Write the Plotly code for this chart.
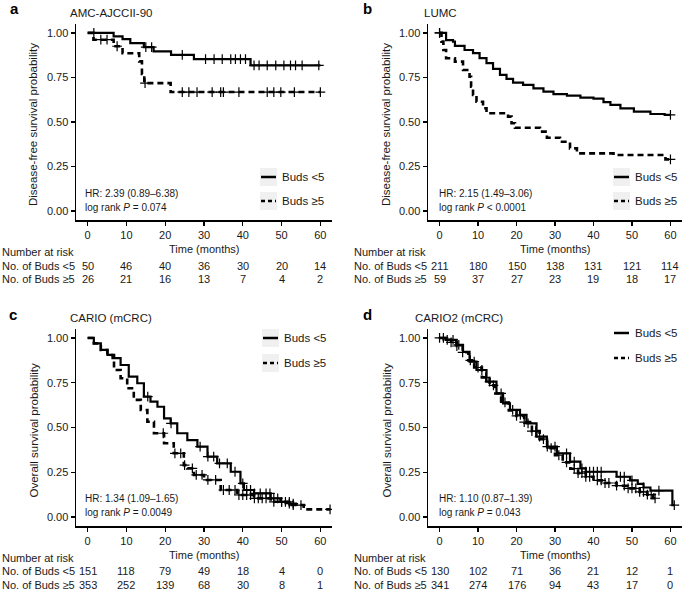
import plotly.graph_objects as go

W, H = 685, 590
FONT = "Liberation Sans, Arial, sans-serif"
FS = 11

# ---------------- data ----------------
TICKS = [0, 10, 20, 30, 40, 50, 60]
TICK_LABELS = ["0", "10", "20", "30", "40", "50", "60"]
Y_TICKS = [0, 0.25, 0.5, 0.75, 1.0]
Y_TICK_LABELS = ["0.00", "0.25", "0.50", "0.75", "1.00"]

# Panel a: AMC-AJCCII-90
A_T_LO = [0, 6.7, 9, 11, 14.5, 17, 21.5, 27.4, 42, 60]
A_S_LO = [1.0, 0.98, 0.965, 0.943, 0.92, 0.896, 0.877, 0.853, 0.818, 0.818]
A_C_LO = [1.6, 15, 16.5, 24.4, 30.4, 32.6, 34.7, 36.9, 38.1, 39.4, 40.7, 42.9, 44.2, 46.3, 48.5, 50.6, 52.3, 53.6, 55.3, 59.6]
A_T_HI = [0, 1.5, 6.7, 9, 13.3, 14, 14.6, 21.4, 60]
A_S_HI = [1.0, 0.962, 0.925, 0.886, 0.84, 0.77, 0.718, 0.668, 0.668]
A_C_HI = [3.4, 5, 7.6, 14.8, 24.4, 26.1, 28.2, 32.1, 34.3, 35, 39, 46.3, 48, 49.8, 53.3, 60]
A_RISK_LO = [50, 46, 40, 36, 30, 20, 14]
A_RISK_HI = [26, 21, 16, 13, 7, 4, 2]

# Panel b: LUMC
B_T_LO = [0, 1.7, 3.5, 4, 6.5, 8.7, 10.4, 12.2, 13.9, 15.7, 17.4, 19.1, 21.7, 24.4, 27, 29.6, 33.1, 36.6, 40, 42.6, 44.4, 47, 50.5, 54.8, 58.5, 60]
B_S_LO = [1.0, 0.96, 0.951, 0.927, 0.904, 0.886, 0.858, 0.83, 0.798, 0.764, 0.742, 0.721, 0.708, 0.689, 0.67, 0.656, 0.648, 0.637, 0.631, 0.611, 0.596, 0.577, 0.558, 0.545, 0.54, 0.54]
B_C_LO = [0, 60]
B_T_HI = [0, 0.5, 1, 1.7, 4, 6.1, 7.8, 8.2, 8.7, 9.6, 11.3, 12.2, 17.8, 18.7, 19.6, 26.1, 27.9, 31.3, 33.9, 35.7, 45.2, 58.7, 60]
B_S_HI = [1.0, 0.951, 0.904, 0.858, 0.839, 0.792, 0.754, 0.698, 0.652, 0.614, 0.577, 0.549, 0.53, 0.493, 0.468, 0.446, 0.412, 0.389, 0.352, 0.324, 0.315, 0.29, 0.29]
B_C_HI = [0, 60]
B_RISK_LO = [211, 180, 150, 138, 131, 121, 114]
B_RISK_HI = [59, 37, 27, 23, 19, 18, 17]

# Panel c: CARIO (mCRC)
C_T_LO = [0, 1.6, 3.4, 5.1, 6.4, 8.5, 10.6, 12.8, 14.5, 16.2, 18, 19.7, 21.4, 23.1, 25.7, 28.3, 30.9, 33.4, 36.9, 39.4, 40.3, 42.9, 47.2, 49.7, 52, 54]
C_S_LO = [1.0, 0.97, 0.933, 0.905, 0.887, 0.849, 0.784, 0.747, 0.672, 0.644, 0.616, 0.551, 0.523, 0.468, 0.43, 0.393, 0.337, 0.30, 0.253, 0.188, 0.151, 0.132, 0.104, 0.085, 0.075, 0.075]
C_C_LO = [15.5, 21.5, 29, 31, 32.5, 34, 36, 38, 40, 41, 42, 43, 44.5, 46, 47, 48, 49, 50, 51, 52, 53]
C_T_HI = [0, 1.6, 3.4, 5.1, 6.8, 8.5, 10.2, 11.9, 13.7, 15.4, 17.1, 19.7, 22.2, 24.8, 25.7, 27.4, 30, 34.3, 38.6, 42.9, 47.2, 52.3, 55.7, 62.5]
C_S_HI = [1.0, 0.97, 0.933, 0.905, 0.821, 0.775, 0.719, 0.654, 0.598, 0.532, 0.468, 0.412, 0.356, 0.29, 0.272, 0.235, 0.207, 0.151, 0.123, 0.104, 0.085, 0.067, 0.043, 0.043]
C_C_HI = [19.5, 22.5, 24, 25, 27, 28, 29.5, 31, 33, 35, 36.5, 38, 39, 40, 41, 42, 43, 44, 45, 46, 48, 50, 52, 53, 55, 62.5]
C_RISK_LO = [151, 118, 79, 49, 18, 4, 0]
C_RISK_HI = [353, 252, 139, 68, 30, 8, 1]

# Panel d: CARIO2 (mCRC)
D_T_LO = [0, 1.7, 4.4, 6.1, 7.8, 9.6, 12.2, 14.8, 16.5, 18.3, 20.9, 22.6, 25.2, 27.9, 30.5, 33.9, 36.6, 38, 46, 49.5, 51.5, 53, 54.8, 60.5, 61]
D_S_LO = [1.0, 0.989, 0.961, 0.923, 0.868, 0.821, 0.756, 0.691, 0.635, 0.598, 0.57, 0.523, 0.449, 0.393, 0.356, 0.309, 0.272, 0.253, 0.225, 0.205, 0.185, 0.165, 0.147, 0.067, 0.067]
D_C_LO = [0, 2, 3.5, 5, 9, 11, 13, 16, 19, 21, 23, 26, 28, 30, 33, 35, 37, 38, 39, 40, 41, 42, 47, 48, 50, 53, 57, 61]
D_T_HI = [0, 1.5, 3, 4.5, 6, 7.5, 9, 11, 13, 14.5, 16, 18, 20, 22, 24, 26, 28, 30, 32, 34, 36, 38, 40, 43, 46, 49, 52, 54, 55.5, 56.5]
D_S_HI = [1.0, 0.99, 0.975, 0.955, 0.92, 0.875, 0.835, 0.78, 0.735, 0.69, 0.64, 0.595, 0.565, 0.53, 0.48, 0.435, 0.385, 0.345, 0.305, 0.27, 0.245, 0.225, 0.205, 0.19, 0.175, 0.16, 0.14, 0.125, 0.105, 0.105]
D_C_HI = [1, 3, 4.5, 6, 8, 10, 12, 14, 17, 20, 22, 24, 25, 27, 29, 31, 33, 35, 36, 37, 38, 39, 41, 42, 43, 44, 46, 48, 49, 50, 51, 52, 53, 54, 55, 56]
D_RISK_LO = [130, 102, 71, 36, 21, 12, 1]
D_RISK_HI = [341, 274, 176, 94, 43, 17, 0]

PANELS = [
    dict(letter="a", title="AMC-AJCCII-90", ylabel="Disease-free survival probability",
         lo=(A_T_LO, A_S_LO, A_C_LO), hi=(A_T_HI, A_S_HI, A_C_HI),
         risk=(A_RISK_LO, A_RISK_HI), hr="HR: 2.39 (0.89–6.38)", p="log rank <i>P</i> = 0.074"),
    dict(letter="b", title="LUMC", ylabel="Disease-free survival probability",
         lo=(B_T_LO, B_S_LO, B_C_LO), hi=(B_T_HI, B_S_HI, B_C_HI),
         risk=(B_RISK_LO, B_RISK_HI), hr="HR: 2.15 (1.49–3.06)", p="log rank <i>P</i> < 0.0001"),
    dict(letter="c", title="CARIO (mCRC)", ylabel="Overall survival probability",
         lo=(C_T_LO, C_S_LO, C_C_LO), hi=(C_T_HI, C_S_HI, C_C_HI),
         risk=(C_RISK_LO, C_RISK_HI), hr="HR: 1.34 (1.09–1.65)", p="log rank <i>P</i> = 0.0049"),
    dict(letter="d", title="CARIO2 (mCRC)", ylabel="Overall survival probability",
         lo=(D_T_LO, D_S_LO, D_C_LO), hi=(D_T_HI, D_S_HI, D_C_HI),
         risk=(D_RISK_LO, D_RISK_HI), hr="HR: 1.10 (0.87–1.39)", p="log rank <i>P</i> = 0.043"),
]

# ---------------- layout geometry (pixels) ----------------
def px(x):
    return x / W

def py(y):
    return 1 - y / H

GEOM = [
    dict(x0=76, x1=332, y0=24, y1=220, legend="bottom", leg_key=260, ylab_x=33, hr_x=83, hr_y=193,
         risk_head=252, risk_rows=(266, 279), lbl_x=0, time_y=249, letter=(14, 9), title_x=68, title_y=13, gray=True),
    dict(x0=428, x1=682, y0=24, y1=220, legend="bottom", leg_key=613, ylab_x=386, hr_x=437, hr_y=193,
         risk_head=252, risk_rows=(266, 279), lbl_x=352, time_y=249, letter=(367, 9), title_x=422, title_y=13, gray=True),
    dict(x0=76, x1=332, y0=329, y1=526, legend="top", leg_key=262, ylab_x=33, hr_x=83, hr_y=498,
         risk_head=558, risk_rows=(571, 585), lbl_x=0, time_y=555, letter=(13, 314), title_x=68, title_y=318, gray=True),
    dict(x0=428, x1=682, y0=329, y1=526, legend="top", leg_key=613, ylab_x=386, hr_x=437, hr_y=498,
         risk_head=558, risk_rows=(571, 585), lbl_x=352, time_y=555, letter=(367, 314), title_x=413, title_y=318, gray=False),
]


def step_at(ts, ss, t):
    v = ss[0]
    for ti, si in zip(ts, ss):
        if ti <= t:
            v = si
        else:
            break
    return v


fig = go.Figure()
annotations = []
shapes = []
tf = dict(family=FONT, size=FS, color="#1a1a1a")

for i, (pan, g) in enumerate(zip(PANELS, GEOM)):
    n = "" if i == 0 else str(i + 1)
    xa, ya = "x" + n, "y" + n
    for key, dash, lw in (("lo", "solid", 2.2), ("hi", "6px,4px", 2.6)):
        ts, ss, cs = pan[key]
        fig.add_trace(go.Scatter(x=ts, y=ss, mode="lines", line_shape="hv",
                                 line=dict(color="black", width=lw, dash=dash),
                                 xaxis=xa, yaxis=ya, showlegend=False, hoverinfo="skip"))
        fig.add_trace(go.Scatter(x=cs, y=[step_at(ts, ss, c) for c in cs], mode="markers",
                                 marker=dict(symbol="cross-thin-open", size=7, color="black",
                                             line=dict(color="black", width=1.2)),
                                 xaxis=xa, yaxis=ya, showlegend=False, hoverinfo="skip"))

    axis_common = dict(showline=True, linecolor="black", linewidth=1.5, ticks="outside",
                       ticklen=4, tickwidth=1.2, tickcolor="black", showgrid=False,
                       zeroline=False, tickfont=tf)
    fig.layout["xaxis" + n] = dict(domain=[px(g["x0"]), px(g["x1"])], range=[-3, 63],
                                   anchor=ya, tickvals=TICKS, ticktext=TICK_LABELS, **axis_common)
    fig.layout["yaxis" + n] = dict(domain=[py(g["y1"]), py(g["y0"])], range=[-0.05, 1.05],
                                   anchor=xa, tickvals=Y_TICKS, ticktext=Y_TICK_LABELS, **axis_common)

    # panel letter and title
    annotations.append(dict(x=px(g["letter"][0]), y=py(g["letter"][1]), xref="paper", yref="paper",
                            text="<b>%s</b>" % pan["letter"], showarrow=False, xanchor="center",
                            yanchor="middle", font=dict(family=FONT, size=15, color="black")))
    annotations.append(dict(x=px(g["title_x"]), y=py(g["title_y"]), xref="paper", yref="paper",
                            text=pan["title"], showarrow=False, xanchor="left", yanchor="middle",
                            font=dict(family=FONT, size=11.5, color="#1a1a1a")))
    # y label
    annotations.append(dict(x=px(g["ylab_x"]), y=py((g["y0"] + g["y1"]) / 2 + 3), xref="paper", yref="paper",
                            text=pan["ylabel"], textangle=-90, showarrow=False, xanchor="center",
                            yanchor="middle", font=dict(family=FONT, size=11.5, color="#1a1a1a")))
    # HR / p text
    annotations.append(dict(x=px(g["hr_x"]), y=py(g["hr_y"]), xref="paper", yref="paper",
                            text=pan["hr"], showarrow=False, xanchor="left", yanchor="middle",
                            font=dict(family=FONT, size=10, color="#1a1a1a")))
    annotations.append(dict(x=px(g["hr_x"]), y=py(g["hr_y"] + 14), xref="paper", yref="paper",
                            text=pan["p"], showarrow=False, xanchor="left", yanchor="middle",
                            font=dict(family=FONT, size=10, color="#1a1a1a")))
    # x label
    annotations.append(dict(x=30, y=py(g["time_y"]), xref=xa, yref="paper", text="Time (months)",
                            showarrow=False, xanchor="center", yanchor="middle", font=tf))
    # risk table
    annotations.append(dict(x=px(g["lbl_x"]), y=py(g["risk_head"]), xref="paper", yref="paper",
                            text="Number at risk", showarrow=False, xanchor="left", yanchor="middle", font=tf))
    for lab, row_y, vals in (("No. of Buds <5", g["risk_rows"][0], pan["risk"][0]),
                             ("No. of Buds ≥5", g["risk_rows"][1], pan["risk"][1])):
        annotations.append(dict(x=px(g["lbl_x"]), y=py(row_y), xref="paper", yref="paper",
                                text=lab, showarrow=False, xanchor="left", yanchor="middle", font=tf))
        for t, v in zip(TICKS, vals):
            annotations.append(dict(x=t, y=py(row_y), xref=xa, yref="paper", text=str(v),
                                    showarrow=False, xanchor="center", yanchor="middle", font=tf))
    # legend
    if g["legend"] == "bottom":
        rows = (177, 201)
    else:
        rows = (338, 363) if g["gray"] else (333, 358)
    k0 = g["leg_key"]
    for ry, dash, lab in ((rows[0], "solid", "Buds <5"), (rows[1], "dash", "Buds ≥5")):
        if g["gray"]:
            shapes.append(dict(type="rect", xref="paper", yref="paper", x0=px(k0), x1=px(k0 + 17),
                               y0=py(ry + 9), y1=py(ry - 9), fillcolor="#f0f0f0", line=dict(width=0),
                               layer="below"))
        shapes.append(dict(type="line", xref="paper", yref="paper", x0=px(k0 + 1), x1=px(k0 + 16),
                           y0=py(ry), y1=py(ry),
                           line=dict(color="black", width=2.5, dash="4px,3px" if dash == "dash" else "solid")))
        annotations.append(dict(x=px(k0 + 20), y=py(ry), xref="paper", yref="paper", text=lab,
                                showarrow=False, xanchor="left", yanchor="middle",
                                font=dict(family=FONT, size=11.5, color="#1a1a1a")))

fig.update_layout(width=W, height=H, margin=dict(l=0, r=0, t=0, b=0),
                  paper_bgcolor="white", plot_bgcolor="white",
                  annotations=annotations, shapes=shapes, showlegend=False)
fig.write_html("out.html", config={"displayModeBar": False, "staticPlot": True},
               post_script="document.body.style.margin='0';document.body.style.overflow='hidden';")
